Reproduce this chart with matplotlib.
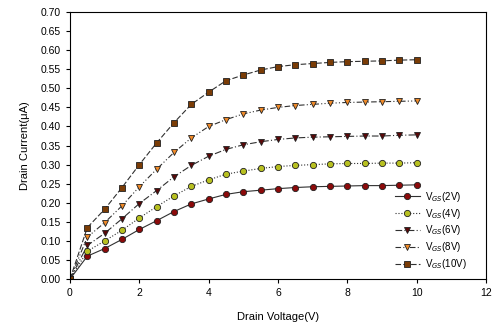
import matplotlib
matplotlib.use("Agg")
import matplotlib.pyplot as plt

plt.rcParams['font.family'] = ['Liberation Sans', 'DejaVu Sans']

vd = [0, 0.5, 1, 1.5, 2, 2.5, 3, 3.5, 4, 4.5, 5, 5.5, 6, 6.5, 7, 7.5, 8, 8.5, 9, 9.5, 10]
i_2v = [0, 0.060, 0.080, 0.104, 0.130, 0.153, 0.177, 0.197, 0.210, 0.222, 0.229, 0.233, 0.237, 0.240,
        0.242, 0.243, 0.244, 0.245, 0.245, 0.246, 0.247]
i_4v = [0, 0.073, 0.100, 0.128, 0.160, 0.190, 0.218, 0.243, 0.260, 0.275, 0.283, 0.290, 0.295, 0.298,
        0.300, 0.302, 0.303, 0.303, 0.304, 0.304, 0.305]
i_6v = [0, 0.088, 0.120, 0.158, 0.198, 0.232, 0.268, 0.298, 0.322, 0.340, 0.352, 0.360, 0.366, 0.370,
        0.372, 0.373, 0.374, 0.375, 0.375, 0.377, 0.378]
i_8v = [0, 0.110, 0.148, 0.192, 0.242, 0.288, 0.332, 0.370, 0.400, 0.418, 0.433, 0.443, 0.450, 0.455,
        0.458, 0.461, 0.463, 0.464, 0.465, 0.466, 0.467]
i_10v = [0, 0.135, 0.183, 0.240, 0.300, 0.357, 0.410, 0.458, 0.490, 0.520, 0.535, 0.548, 0.557, 0.562,
         0.565, 0.568, 0.570, 0.571, 0.572, 0.574, 0.575]
labels = [r'V$_{GS}$(2V)', r'V$_{GS}$(4V)', r'V$_{GS}$(6V)', r'V$_{GS}$(8V)', r'V$_{GS}$(10V)']

fig = plt.figure(figsize=(4.94, 3.26), dpi=100)
ax = fig.add_axes([0.1417, 0.144, 0.842, 0.819])

series = [
    (i_2v, 'o', '#8b0a0a', '-', 4.5),
    (i_4v, 'o', '#b8c020', ':', 4.5),
    (i_6v, 'v', '#5a0808', (0, (6, 2, 1, 2)), 5),
    (i_8v, 'v', '#f08a28', (0, (5, 2, 1, 2, 1, 2)), 5),
    (i_10v, 's', '#7a3c06', (0, (5, 2)), 4.5),
]
for (y, m, c, ls, ms), lab in zip(series, labels):
    ax.plot(vd, y, linestyle=ls, color='#303030', linewidth=0.8, marker=m,
            markerfacecolor=c, markeredgecolor='#202020', markeredgewidth=0.6,
            markersize=ms, label=lab)

ax.set_xlim(0, 12)
ax.set_ylim(0, 0.70)
ax.set_xticks(range(0, 13, 2))
ax.set_yticks([i * 0.05 for i in range(15)])
ax.set_yticklabels(['%.2f' % (i * 0.05) for i in range(15)])
ax.tick_params(direction='out', length=3, width=0.8, labelsize=7.5, top=False, right=False)
ax.set_xlabel('Drain Voltage(V)', fontsize=8, labelpad=10)
ax.set_ylabel('Drain Current(\u03bcA)', fontsize=8, labelpad=8)
for s in ax.spines.values():
    s.set_linewidth(0.8)

ax.legend(loc='upper left', bbox_to_anchor=(0.781, 0.335), frameon=False, fontsize=7,
          handlelength=2.6, labelspacing=0.3, handletextpad=0.5, borderpad=0, borderaxespad=0)

fig.savefig('out.png', dpi=100)
